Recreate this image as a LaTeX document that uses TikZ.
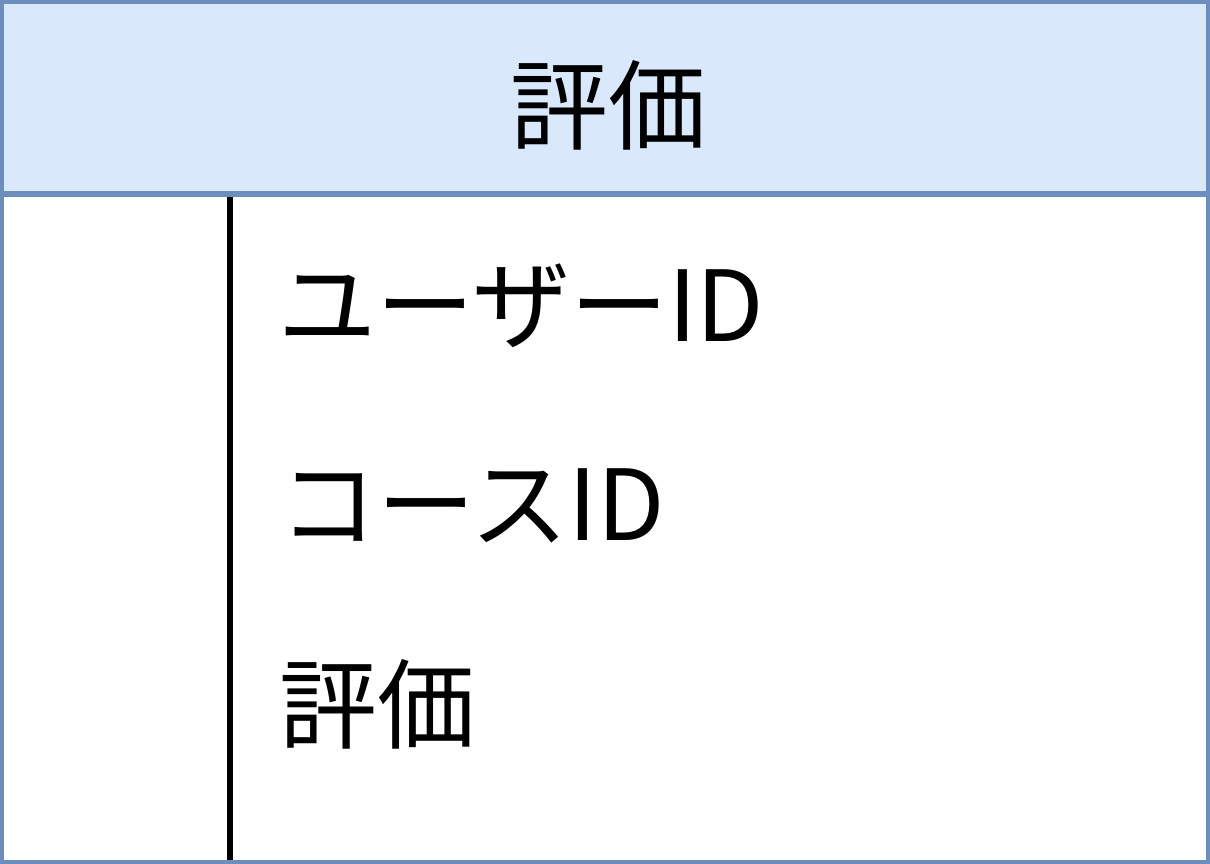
\documentclass[tikz,border=0pt]{standalone}
\usepackage{fontspec}
\newfontfamily\cjk{Noto Sans CJK JP}
\definecolor{hdrfill}{HTML}{DAE8FC}
\definecolor{hdrline}{HTML}{6C8EBF}
\tikzset{
  txt/.style={font=\cjk\fontsize{98}{110}\selectfont, inner sep=0pt, text=black},
  rowtxt/.style={txt, anchor=west}
}
\begin{document}
\begin{tikzpicture}[x=1pt,y=-1pt]
\useasboundingbox (0,0) rectangle (1210,864);
\fill[white] (0,0) rectangle (1210,864);
\fill[hdrfill] (0,0) rectangle (1210,194);
\draw[hdrline, line width=4pt] (2,2) rectangle (1208,862);
\draw[hdrline, line width=6pt] (0,194) -- (1210,194);
\coordinate (vtop) at (230,197);
\coordinate (vbot) at (230,860);
\draw[black, line width=6pt] (vtop) -- (vbot);
\node[txt] (title) at (608,105) {評価};
\node[rowtxt] (r1) at (278,306) {ユーザーID};
\node[rowtxt] (r2) at (279,506) {コースID};
\node[rowtxt] (r3) at (279,704) {評価};
\end{tikzpicture}
\end{document}
